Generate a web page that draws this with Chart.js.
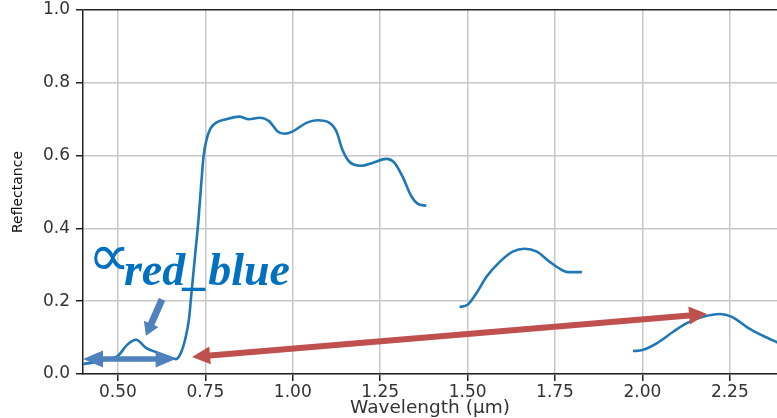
<!DOCTYPE html>
<html lang="en">
<head>
  <meta charset="UTF-8">
  <title>Reflectance</title>
  <style>
    html, body { margin: 0; padding: 0; background: #fff; overflow: hidden; }
    canvas { display: block; }
  </style>
</head>
<body>
  <canvas id="grafico" width="777" height="418"></canvas>

<script src="https://cdn.jsdelivr.net/npm/chart.js"></script>
<script>
  // spectrum (null = gap in the curve)
  const wavelength = [
    0.40, 0.45, 0.50, 0.526, 0.552, 0.58, 0.609, 0.637, 0.666, 0.68, 0.692, 0.703, 0.71, 0.72, 0.73,
    0.738, 0.745, 0.755, 0.765, 0.78, 0.81, 0.847, 0.875, 0.904, 0.933, 0.956, 0.976, 0.999,
    1.039, 1.07, 1.105, 1.125, 1.142, 1.162, 1.196, 1.228, 1.268, 1.291, 1.314, 1.34, 1.357, 1.382,
    1.43,
    1.477, 1.50, 1.526, 1.554, 1.592, 1.629, 1.663, 1.698, 1.735, 1.764, 1.787, 1.827,
    1.90,
    1.973, 2.0, 2.042, 2.088, 2.127, 2.173, 2.222, 2.256, 2.302, 2.345, 2.39
  ];
  const reflectance = [
    0.027, 0.036, 0.05, 0.08, 0.094, 0.072, 0.06, 0.05, 0.041, 0.058, 0.094, 0.15, 0.22, 0.32, 0.42,
    0.52, 0.60, 0.65, 0.675, 0.69, 0.70, 0.707, 0.70, 0.704, 0.694, 0.667, 0.66, 0.666,
    0.69, 0.697, 0.69, 0.666, 0.616, 0.583, 0.572, 0.58, 0.591, 0.58, 0.542, 0.487, 0.468, 0.462,
    null,
    0.184, 0.19, 0.223, 0.267, 0.308, 0.336, 0.344, 0.336, 0.308, 0.289, 0.28, 0.28,
    null,
    0.063, 0.066, 0.085, 0.116, 0.14, 0.157, 0.165, 0.157, 0.127, 0.105, 0.085
  ];
  const xTicks = [0.50, 0.75, 1.00, 1.25, 1.50, 1.75, 2.00, 2.25];
  const yTicks = [0.0, 0.2, 0.4, 0.6, 0.8, 1.0];

  // annotations, in data units
  const setaAzul = [[0.40, 0.041], [0.665, 0.041]];
  const setaVermelha = [[0.712, 0.047], [2.185, 0.165]];
  const setaPequena = [[0.626, 0.205], [0.58, 0.105]];
  const textoAlpha = [0.414, 0.270];
  const textoSub = [0.517, 0.245];

  function desenharSeta(ctx, x1, y1, x2, y2, w, hl, hw, dupla, cor) {
    const dx = x2 - x1, dy = y2 - y1;
    const L = Math.hypot(dx, dy), ux = dx / L, uy = dy / L, nx = -uy, ny = ux;
    const p = (t, n) => [x1 + ux * t + nx * n, y1 + uy * t + ny * n];
    const pts = [];
    if (dupla) pts.push(p(0, 0), p(hl, hw / 2), p(hl, w / 2));
    else pts.push(p(0, w / 2));
    pts.push(p(L - hl, w / 2), p(L - hl, hw / 2), p(L, 0), p(L - hl, -hw / 2), p(L - hl, -w / 2));
    if (dupla) pts.push(p(hl, -w / 2), p(hl, -hw / 2));
    else pts.push(p(0, -w / 2));
    ctx.beginPath();
    pts.forEach((q, i) => i ? ctx.lineTo(q[0], q[1]) : ctx.moveTo(q[0], q[1]));
    ctx.closePath();
    ctx.fillStyle = cor;
    ctx.fill();
  }

  const anotacoes = {
    id: 'anotacoes',
    afterDatasetsDraw(chart) {
      const ctx = chart.ctx;
      const sx = chart.scales.x, sy = chart.scales.y;
      const px = v => sx.getPixelForValue(v), py = v => sy.getPixelForValue(v);
      ctx.save();
      desenharSeta(ctx, px(setaAzul[0][0]), py(setaAzul[0][1]), px(setaAzul[1][0]), py(setaAzul[1][1]),
        5.5, 20, 17, true, '#4F81BD');
      desenharSeta(ctx, px(setaVermelha[0][0]), py(setaVermelha[0][1]), px(setaVermelha[1][0]), py(setaVermelha[1][1]),
        6, 18, 18, true, '#C0504D');
      desenharSeta(ctx, px(setaPequena[0][0]), py(setaPequena[0][1]), px(setaPequena[1][0]), py(setaPequena[1][1]),
        7, 13, 16, false, '#4F81BD');

      ctx.fillStyle = '#0070C0';
      ctx.textBaseline = 'alphabetic';
      ctx.textAlign = 'left';
      ctx.font = '60px "DejaVu Sans"';
      ctx.fillText('\u221D', px(textoAlpha[0]), py(textoAlpha[1]));
      ctx.font = 'italic bold 46px "Liberation Serif"';
      ctx.fillText('red_blue', px(textoSub[0]), py(textoSub[1]));
      ctx.restore();
    }
  };

  const pontos = wavelength.map((w, i) => ({ x: w, y: reflectance[i] }));
  const fonteEixo = { family: 'DejaVu Sans', size: 17 };

  const ctx = document.getElementById('grafico').getContext('2d');
  new Chart(ctx, {
    type: 'line',
    data: {
      datasets: [{
        data: pontos,
        borderColor: '#1f77b4',
        borderWidth: 2.6,
        pointRadius: 0,
        cubicInterpolationMode: 'monotone',
        spanGaps: false,
        fill: false
      }]
    },
    options: {
      responsive: false,
      animation: false,
      layout: { padding: { top: 10, left: 0, right: 0, bottom: 0 } },
      plugins: { legend: { display: false }, tooltip: { enabled: false } },
      scales: {
        x: {
          type: 'linear',
          min: 0.4,
          max: 2.385,
          afterBuildTicks: s => { s.ticks = xTicks.map(v => ({ value: v })); },
          afterFit: s => { s.height = 44; s.paddingLeft = 0; s.paddingRight = 0; },
          ticks: {
            callback: v => Number(v).toFixed(2),
            font: fonteEixo,
            color: '#333',
            padding: 1,
            maxRotation: 0,
            autoSkip: false
          },
          grid: { color: '#c8c8c8', lineWidth: 1.5, tickLength: 7, tickColor: '#222', tickWidth: 1.5 },
          border: { display: true, color: '#222', width: 1.5 },
          title: {
            display: true,
            text: 'Wavelength (µm)',
            color: '#333',
            font: { family: 'DejaVu Sans', size: 18.5 },
            padding: { top: 0, bottom: -1 }
          }
        },
        y: {
          min: 0,
          max: 1,
          afterBuildTicks: s => { s.ticks = yTicks.map(v => ({ value: v })); },
          afterFit: s => { s.width = 83; s.paddingTop = 0; s.paddingBottom = 0; },
          ticks: {
            callback: v => Number(v).toFixed(1),
            font: fonteEixo,
            color: '#333',
            padding: 6
          },
          grid: {
            color: c => (c.tick && c.tick.value === 1) ? '#222' : '#c8c8c8',
            lineWidth: 1.5,
            tickLength: 7,
            tickColor: '#222',
            tickWidth: 1.5
          },
          border: { display: true, color: '#222', width: 1.5 },
          title: {
            display: true,
            text: 'Reflectance',
            color: '#111',
            font: { family: 'DejaVu Sans', size: 14 },
            padding: { top: 10, bottom: 0 }
          }
        }
      }
    },
    plugins: [anotacoes]
  });
</script>
</body>
</html>
